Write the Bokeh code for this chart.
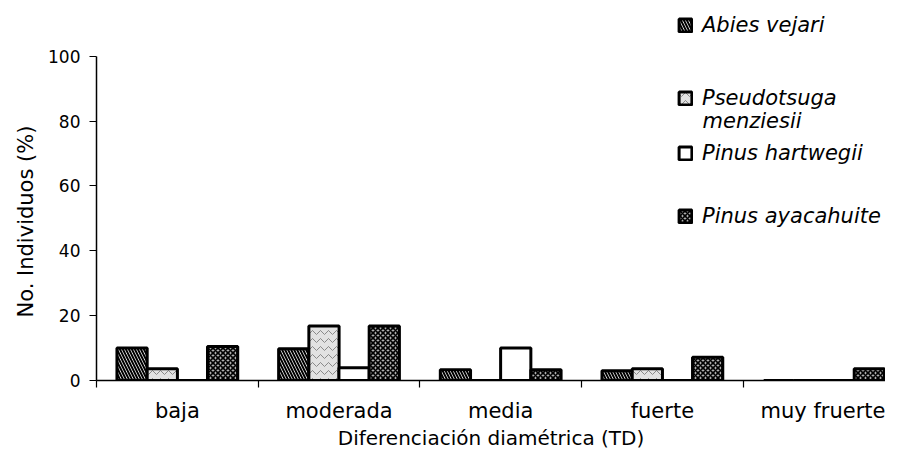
from bokeh.plotting import figure
from bokeh.models import Range1d, FixedTicker, Legend, LegendItem, Label, ColumnDataSource, Title
from bokeh.embed import file_html
from bokeh.resources import INLINE

# ---- data ----
categories = ["baja", "moderada", "media", "fuerte", "muy fruerte"]
species = ["Abies vejari", "Pseudotsuga", "Pinus hartwegii", "Pinus ayacahuite"]
abies_vejari = [10.0, 9.8, 3.3, 3.0, 0.0]
pseudotsuga_menziesii = [3.6, 16.8, 0.0, 3.6, 0.0]
pinus_hartwegii = [0.0, 3.9, 10.0, 0.0, 0.0]
pinus_ayacahuite = [10.5, 16.8, 3.3, 7.2, 3.6]
y_ticks = [0, 20, 40, 60, 80, 100]

series = [abies_vejari, pseudotsuga_menziesii, pinus_hartwegii, pinus_ayacahuite]

# ---- layout / style ----
FONT = "DejaVu Sans"
offsets = [-0.28, -0.093, 0.093, 0.28]
bar_w = 0.187
x_end = 4.88
y_end = 117.2

styles = [
    dict(fill_color="white", hatch_pattern="left_diagonal_line", hatch_color="black",
         hatch_scale=6, hatch_weight=2),
    dict(fill_color="#e2e2e2", hatch_pattern="horizontal_wave", hatch_color="#8a8a8a",
         hatch_scale=8, hatch_weight=1),
    dict(fill_color="white"),
    dict(fill_color="#b0b0b0", hatch_pattern="diagonal_cross", hatch_color="black",
         hatch_scale=5, hatch_weight=1.6),
]

p = figure(width=885, height=452, output_backend="svg", toolbar_location=None,
           x_range=Range1d(0, x_end), y_range=Range1d(0, y_end),
           min_border_left=96, min_border_right=0, min_border_top=0, min_border_bottom=72)
p.outline_line_color = None
p.grid.visible = False
p.background_fill_color = "white"

renderers = []
for k, vals in enumerate(series):
    xs = [i + 0.5 + offsets[k] for i in range(len(categories))]
    src = ColumnDataSource(dict(x=xs, top=vals))
    r = p.vbar(x="x", top="top", bottom=0, width=bar_w, source=src,
               line_color="black", line_width=3, **styles[k])
    renderers.append(r)

# x axis: category labels at centers, separator ticks at boundaries
centers = [i + 0.5 for i in range(len(categories))]
p.xaxis.ticker = FixedTicker(ticks=centers, minor_ticks=list(range(len(categories))))
p.xaxis.major_label_overrides = {c: lab for c, lab in zip(centers, categories)}
p.xaxis.major_tick_out = 0
p.xaxis.major_tick_in = 0
p.xaxis.minor_tick_out = 7
p.xaxis.minor_tick_in = 0
p.xaxis.minor_tick_line_color = "black"
p.xaxis.minor_tick_line_width = 1.2
p.xaxis.major_label_standoff = 11
p.xaxis.axis_label = "Diferenciación diamétrica (TD)"
p.xaxis.axis_label_standoff = 0

p.yaxis.ticker = FixedTicker(ticks=y_ticks, minor_ticks=[])
p.yaxis.bounds = (y_ticks[0], y_ticks[-1])
p.yaxis.major_tick_out = 7
p.yaxis.major_tick_in = 0
p.yaxis.major_tick_line_width = 1.2
p.yaxis.major_tick_line_color = "black"
p.yaxis.major_label_standoff = 9

for ax in (p.xaxis[0], p.yaxis[0]):
    ax.axis_line_color = "black"
    ax.axis_line_width = 1.5
    ax.major_label_text_font = FONT
    ax.major_label_text_color = "black"
    ax.axis_label_text_font = FONT
    ax.axis_label_text_font_style = "normal"
    ax.axis_label_text_color = "black"
    ax.axis_label_text_font_size = "20px"
p.xaxis.major_tick_line_color = None
p.xaxis.major_label_text_font_size = "21px"
p.yaxis.major_label_text_font_size = "17px"

# y-axis title, placed along the 0-100 part of the axis
ytitle = Title(text="No. Individuos (%)", align="left", offset=63, standoff=15,
               text_font=FONT, text_font_size="21px", text_font_style="normal",
               text_color="black")
p.add_layout(ytitle, "left")

# legend: one small legend per entry so that spacing matches
leg_x = 581
leg_ys = [343, 270, 215, 152]
for k in range(4):
    lg = Legend(items=[LegendItem(label=species[k], renderers=[renderers[k]])],
                location=(leg_x, leg_ys[k]), padding=0, margin=0,
                border_line_color=None, background_fill_alpha=0,
                glyph_width=16, glyph_height=16, label_standoff=9,
                label_text_font=FONT, label_text_font_style="italic",
                label_text_font_size="21px", label_text_color="black")
    p.add_layout(lg, "center")

p.add_layout(Label(x=leg_x + 25, y=260, x_units="screen", y_units="screen",
                   text="menziesii", text_font=FONT, text_font_style="italic",
                   text_font_size="21px", text_color="black",
                   text_baseline="middle"))

open("out.html", "w").write(file_html(p, INLINE))
